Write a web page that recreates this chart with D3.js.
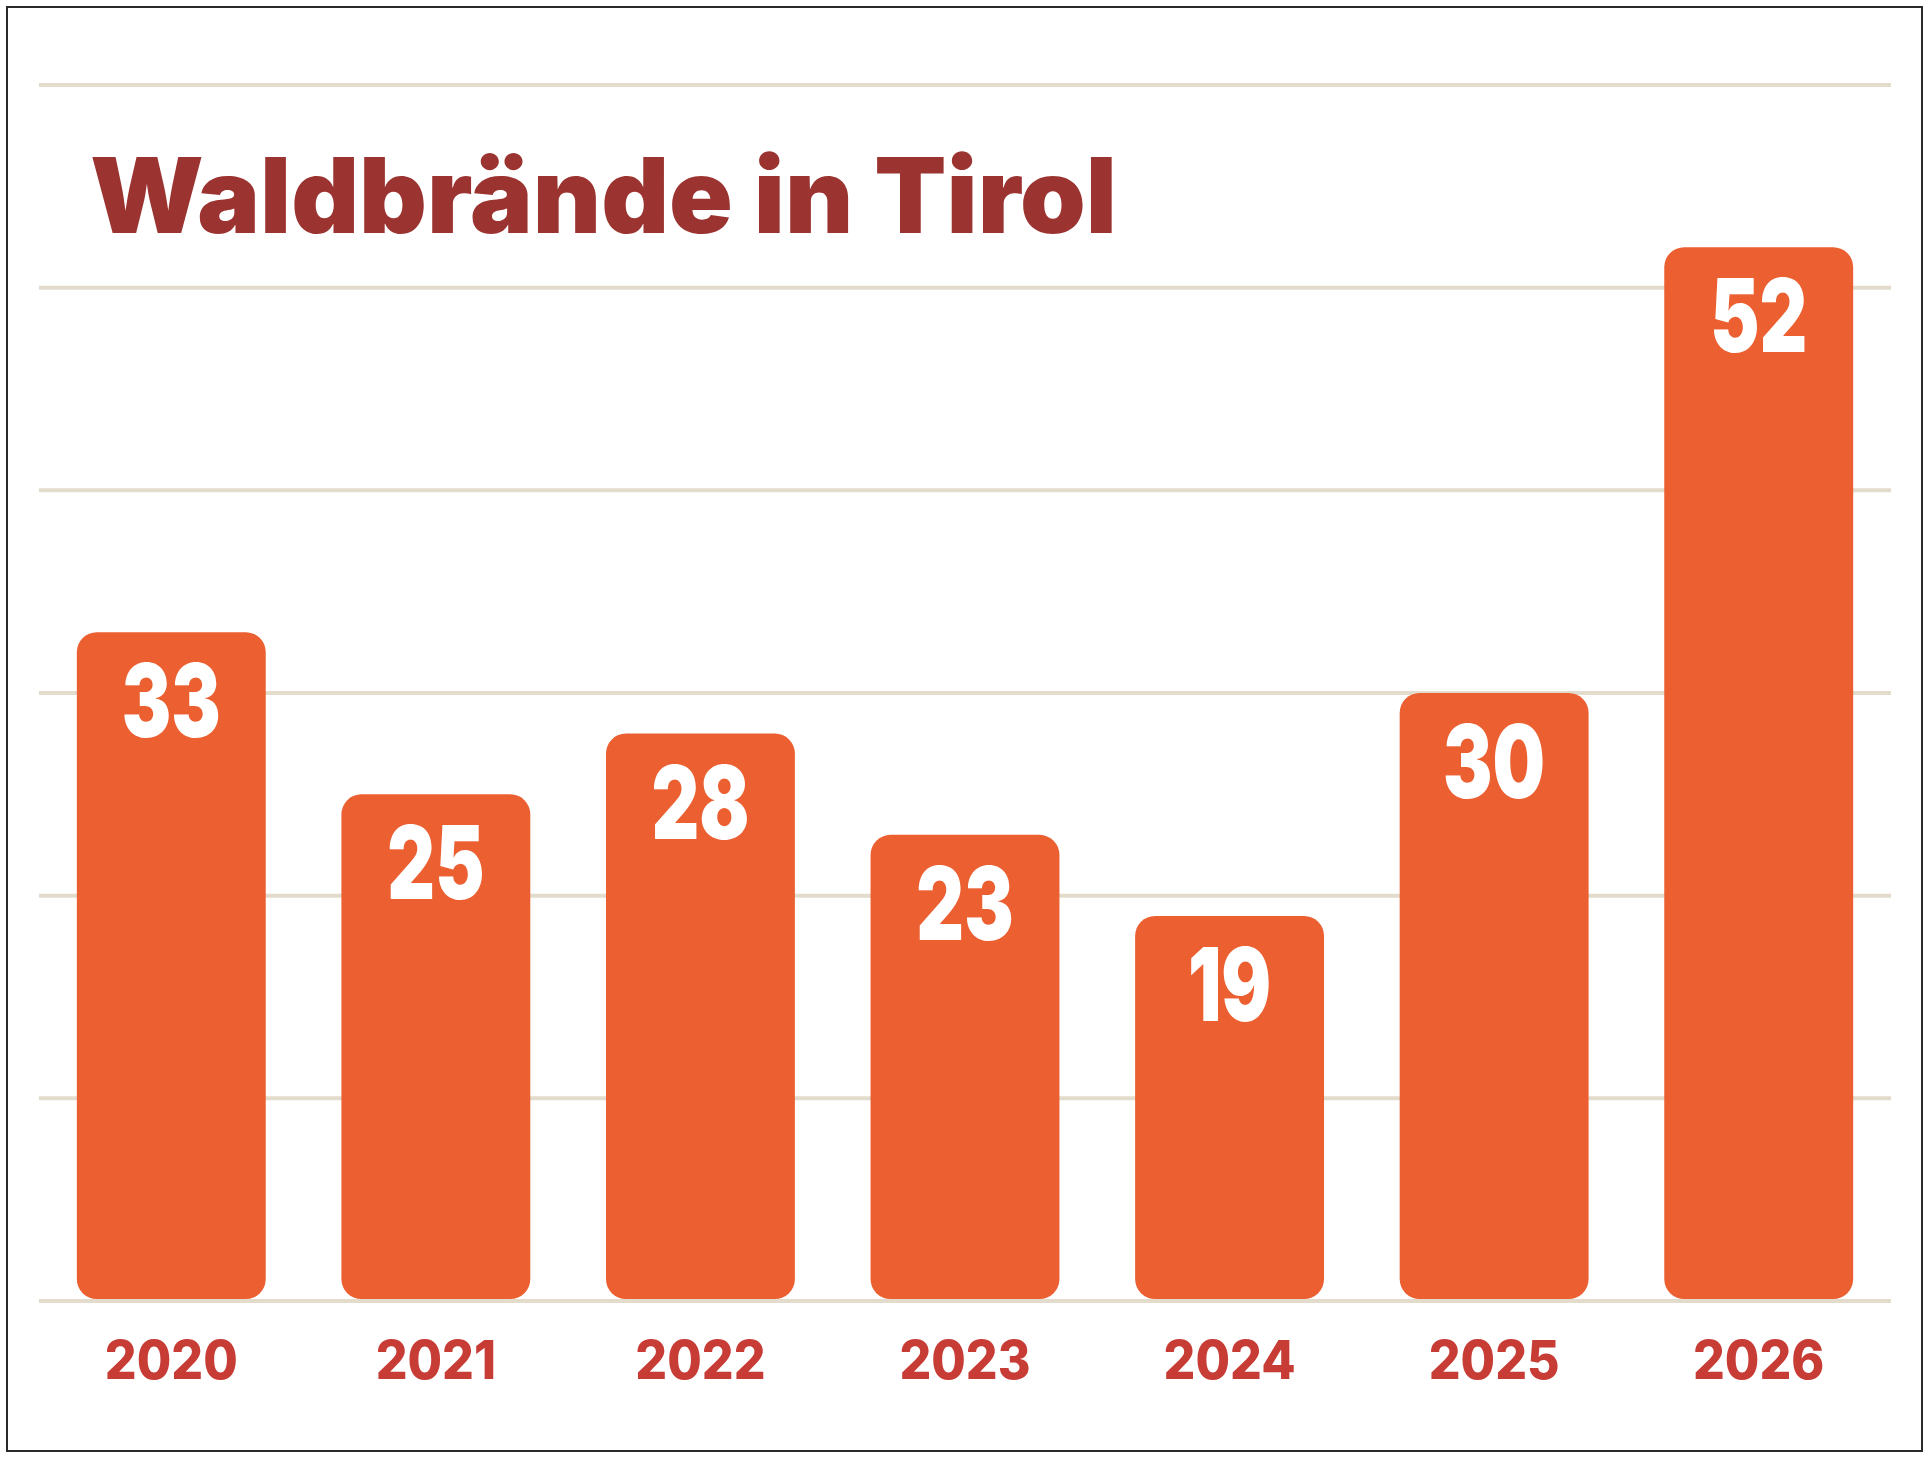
<!DOCTYPE html>
<html>
<head>
<meta charset="utf-8">
<script src="https://cdn.jsdelivr.net/npm/d3@7"></script>
<style>
  html, body { margin: 0; padding: 0; background: #ffffff; }
  svg { display: block; }
</style>
</head>
<body>
<svg id="chart" width="1932" height="1466"></svg>
<script>
// ---- data ----
const title = "Waldbrände in Tirol";
const years = ["2020", "2021", "2022", "2023", "2024", "2025", "2026"];
const fires = [33, 25, 28, 23, 19, 30, 52];
const gridTicks = [0, 10, 20, 30, 40, 50, 60];

// ---- styles ----
const W = 1932, H = 1466;
const barColor = "#eb5f30";
const titleColor = "#9b3431";
const yearColor = "#c83c36";
const gridColor = "#e3dccd";
const fontFam = "Inter, 'Noto Sans', Lato, sans-serif";

const svg = d3.select("#chart");
svg.append("rect").attr("x", 0).attr("y", 0).attr("width", W).attr("height", H).attr("fill", "#fff");

// frame
svg.append("rect")
  .attr("x", 7).attr("y", 7).attr("width", 1915).attr("height", 1444)
  .attr("fill", "none").attr("stroke", "#2a2a2a").attr("stroke-width", 2);

const x = d3.scaleBand()
  .domain(years)
  .range([39, 1891])
  .paddingInner(0.286)
  .paddingOuter(0.143);

const y = d3.scaleLinear().domain([0, 60]).range([1301, 85]);

// gridlines
svg.append("g").selectAll("line")
  .data(gridTicks)
  .join("line")
  .attr("x1", 39).attr("x2", 1891)
  .attr("y1", d => y(d)).attr("y2", d => y(d))
  .attr("stroke", gridColor).attr("stroke-width", 4);

// bars
const data = years.map((yr, i) => ({ year: yr, value: fires[i] }));
svg.append("g").selectAll("rect")
  .data(data)
  .join("rect")
  .attr("x", d => x(d.year))
  .attr("y", d => y(d.value))
  .attr("width", x.bandwidth())
  .attr("height", d => y(0) - 2 - y(d.value))
  .attr("rx", 20).attr("ry", 20)
  .attr("fill", barColor);

// value labels
const valG = svg.append("g");
const vals = valG.selectAll("text")
  .data(data)
  .join("text")
  .attr("text-anchor", "middle")
  .attr("font-family", fontFam)
  .attr("font-weight", 900)
  .attr("font-size", 102)
  .attr("fill", "#ffffff")
  .text(d => d.value);
// compress horizontally to match reference glyph widths ("33" ≈ 99px wide)
const refLen = vals.filter(d => d.value === 33).node().getComputedTextLength();
const kv = Math.min(1, 99 / refLen);
vals.attr("transform", d => `translate(${x(d.year) + x.bandwidth() / 2},${y(d.value) + 105}) scale(${kv},1)`);

// year labels
const yrs = svg.append("g").selectAll("text")
  .data(years)
  .join("text")
  .attr("text-anchor", "middle")
  .attr("font-family", fontFam)
  .attr("font-weight", 800)
  .attr("font-size", 53)
  .attr("fill", yearColor)
  .text(d => d);
const refYr = yrs.filter(d => d === "2020").node().getComputedTextLength();
const ky = 133 / refYr;
yrs.attr("transform", d => `translate(${x(d) + x.bandwidth() / 2},1379) scale(${ky},1)`);

// title
svg.append("text")
  .attr("x", 90).attr("y", 233)
  .attr("font-family", fontFam)
  .attr("font-weight", 900)
  .attr("font-size", 104)
  .attr("fill", titleColor)
  .attr("textLength", 1027)
  .attr("lengthAdjust", "spacingAndGlyphs")
  .text(title);
</script>
</body>
</html>
